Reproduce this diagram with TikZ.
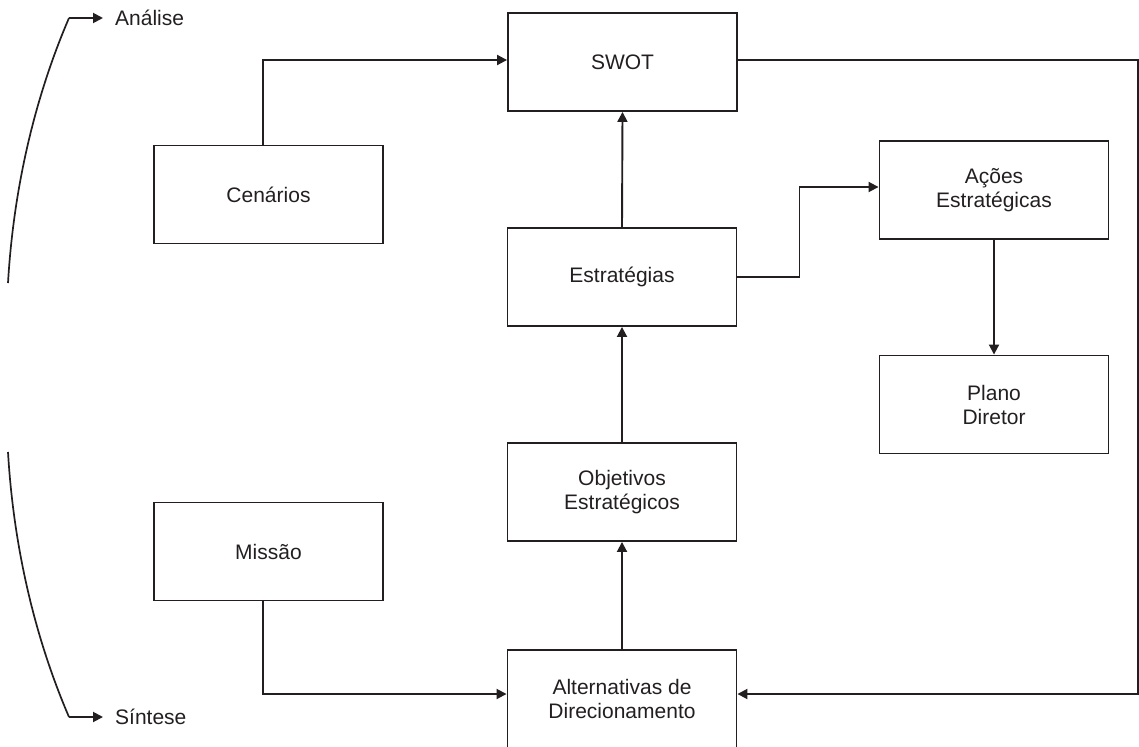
\documentclass[tikz,border=0pt]{standalone}
\usepackage{fontspec}
\setmainfont{Liberation Sans}
\usetikzlibrary{arrows.meta}
\definecolor{ink}{HTML}{231F20}
\begin{document}
\begin{tikzpicture}[x=1pt,y=-1pt,
  txt/.style={font=\fontsize{21}{24}\selectfont, text=ink},
  box/.style={txt, draw=ink, line width=1.9pt, minimum width=229pt, minimum height=98pt, align=center, inner sep=0pt},
  conn/.style={draw=ink, line width=1.9pt, -{Triangle[length=10pt,width=10pt]}},
  curveline/.style={draw=ink, line width=1.7pt},
  lbl/.style={txt, anchor=west, inner xsep=12pt, inner ysep=0pt}
]
\useasboundingbox (0,0) rectangle (1139,746);

% boxes
\node[box] (swot)   at (622.5,62)   {SWOT};
\node[box] (cen)    at (268.5,194.5) {Cenários};
\node[box] (est)    at (622,277)    {Estratégias};
\node[box] (acoes)  at (994,190)    {Ações\\Estratégicas};
\node[box] (plano)  at (994,404.5)  {Plano\\Diretor};
\node[box] (obj)    at (622,492)    {Objetivos\\Estratégicos};
\node[box] (missao) at (268.5,551.5) {Missão};
\node[box] (alt)    at (622,699)    {Alternativas de\\Direcionamento};

% connectors
\draw[conn] ([xshift=-5.5pt]cen.north) |- ([yshift=2pt]swot.west);
\draw[conn] (est.north) -- (swot.south);
\draw[conn] (est.east) -- ++(62,0) |- ([yshift=3pt]acoes.west);
\draw[conn] (acoes.south) -- (plano.north);
\draw[conn] (obj.north) -- (est.south);
\draw[conn] (alt.north) -- (obj.south);
\draw[conn] ([xshift=-5.5pt]missao.south) |- ([yshift=5pt]alt.west);
\draw[conn] ([yshift=2pt]swot.east) -- ++(400,0) |- ([yshift=5pt]alt.east);

% left brackets
\coordinate (a0) at (8,283);
\coordinate (a1) at (69,18);
\coordinate (s0) at (8,452);
\coordinate (s1) at (69,717);
\node[lbl] (analise) at (103,18) {Análise};
\node[lbl] (sintese) at (103,717) {Síntese};
\draw[curveline] (a0) .. controls (14,180) and (38,90) .. (a1);
\draw[curveline] (s0) .. controls (14,555) and (38,645) .. (s1);
\draw[conn] (a1) -- (analise.west);
\draw[conn] (s1) -- (sintese.west);
\end{tikzpicture}
\end{document}
